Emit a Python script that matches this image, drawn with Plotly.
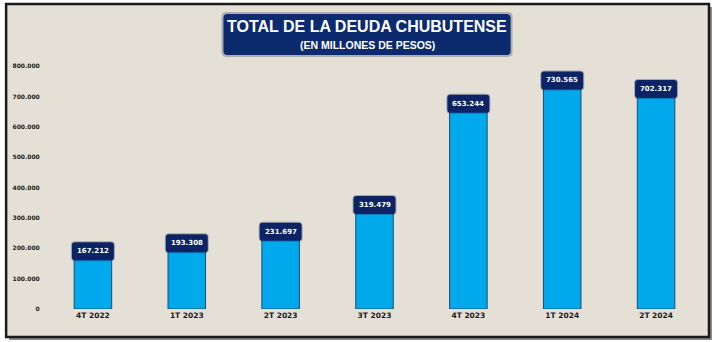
import plotly.graph_objects as go

categories = ["4T 2022", "1T 2023", "2T 2023", "3T 2023", "4T 2023", "1T 2024", "2T 2024"]
values = [167212, 193308, 231697, 319479, 653244, 730565, 702317]
value_labels = ["167.212", "193.308", "231.697", "319.479", "653.244", "730.565", "702.317"]
ytick_vals = [0, 100000, 200000, 300000, 400000, 500000, 600000, 700000, 800000]
ytick_text = ["0", "100.000", "200.000", "300.000", "400.000", "500.000", "600.000", "700.000", "800.000"]

W, H = 715, 342
L, R, T, B = 44, 12, 36, 33
PW, PH = W - L - R, H - T - B

def px(x):
    return (x - L) / PW

def py(y):
    return (H - B - y) / PH

def rounded_path(x0, y0, x1, y1, r):
    return (f"M {x0+r},{y0} L {x1-r},{y0} Q {x1},{y0} {x1},{y0+r} "
            f"L {x1},{y1-r} Q {x1},{y1} {x1-r},{y1} L {x0+r},{y1} "
            f"Q {x0},{y1} {x0},{y1-r} L {x0},{y0+r} Q {x0},{y0} {x0+r},{y0} Z")

def rr_paper(x0, y0, x1, y1, r):
    X = lambda v: px(v)
    Y = lambda v: py(v)
    return (f"M {X(x0+r)},{Y(y0)} L {X(x1-r)},{Y(y0)} Q {X(x1)},{Y(y0)} {X(x1)},{Y(y0+r)} "
            f"L {X(x1)},{Y(y1-r)} Q {X(x1)},{Y(y1)} {X(x1-r)},{Y(y1)} L {X(x0+r)},{Y(y1)} "
            f"Q {X(x0)},{Y(y1)} {X(x0)},{Y(y1-r)} L {X(x0)},{Y(y0+r)} Q {X(x0)},{Y(y0)} {X(x0+r)},{Y(y0)} Z")

fig = go.Figure()
fig.add_trace(go.Bar(
    x=categories, y=values,
    marker=dict(color="#00a8ec", line=dict(color="#174e72", width=1)),
    hoverinfo="skip",
))

shapes = []
# outer frame shadow and frame
shapes.append(dict(type="rect", xref="paper", yref="paper",
                   x0=px(7), x1=px(712), y0=py(340), y1=py(7),
                   fillcolor="#8a8a8a", line=dict(width=0), layer="below"))
shapes.append(dict(type="rect", xref="paper", yref="paper",
                   x0=px(4), x1=px(709), y0=py(337), y1=py(4),
                   fillcolor="#e5e0d6", line=dict(color="#1a1a1a", width=2.5), layer="below"))

# title box with soft shadow
shapes.append(dict(type="path", xref="paper", yref="paper",
                   path=rr_paper(220, 12, 512, 57, 5),
                   fillcolor="rgba(10,20,50,0.25)", line=dict(width=0)))
shapes.append(dict(type="path", xref="paper", yref="paper",
                   path=rr_paper(222, 14, 510, 55, 4),
                   fillcolor="#0c2a6e", line=dict(width=0)))

annotations = [
    dict(text="<b>TOTAL DE LA DEUDA CHUBUTENSE</b>", x=px(366), y=py(27), xref="paper", yref="paper",
         showarrow=False, font=dict(family="Liberation Sans, Arial", size=16, color="white"),
         xanchor="center", yanchor="middle"),
    dict(text="<b>(EN MILLONES DE PESOS)</b>", x=px(366), y=py(45), xref="paper", yref="paper",
         showarrow=False, font=dict(family="Liberation Sans, Arial", size=10.5, color="white"),
         xanchor="center", yanchor="middle"),
]

for i, (v, lab) in enumerate(zip(values, value_labels)):
    shapes.append(dict(type="path", xref="x", yref="y", xsizemode="pixel", ysizemode="pixel",
                       xanchor=i, yanchor=v,
                       path=rounded_path(-22, -3, 22, 17, 4),
                       fillcolor="rgba(12,36,100,0.3)", line=dict(width=0)))
    shapes.append(dict(type="path", xref="x", yref="y", xsizemode="pixel", ysizemode="pixel",
                       xanchor=i, yanchor=v,
                       path=rounded_path(-21, -2, 21, 16, 3),
                       fillcolor="#0c2466", line=dict(width=0)))
    annotations.append(dict(text=f"<b>{lab}</b>", x=categories[i], y=v, xref="x", yref="y",
                            showarrow=False, yshift=7, xanchor="center", yanchor="middle",
                            font=dict(family="DejaVu Sans", size=7, color="white")))

fig.update_layout(
    width=W, height=H,
    margin=dict(l=L, r=R, t=T, b=B),
    paper_bgcolor="white",
    plot_bgcolor="rgba(0,0,0,0)",
    bargap=0.6,
    showlegend=False,
    shapes=shapes,
    annotations=annotations,
    xaxis=dict(showgrid=False, zeroline=False, showline=False, ticks="",
               tickfont=dict(family="DejaVu Sans", size=7.5, color="#1a1a1a", weight="bold"),
               fixedrange=True),
    yaxis=dict(range=[0, 900000], tickvals=ytick_vals, ticktext=ytick_text,
               showgrid=False, zeroline=False, showline=False,
               ticks="outside", ticklen=4, tickcolor="rgba(0,0,0,0)",
               tickfont=dict(family="DejaVu Sans", size=6, color="#1a1a1a", weight="bold"),
               fixedrange=True),
)

fig.write_html("out.html")
